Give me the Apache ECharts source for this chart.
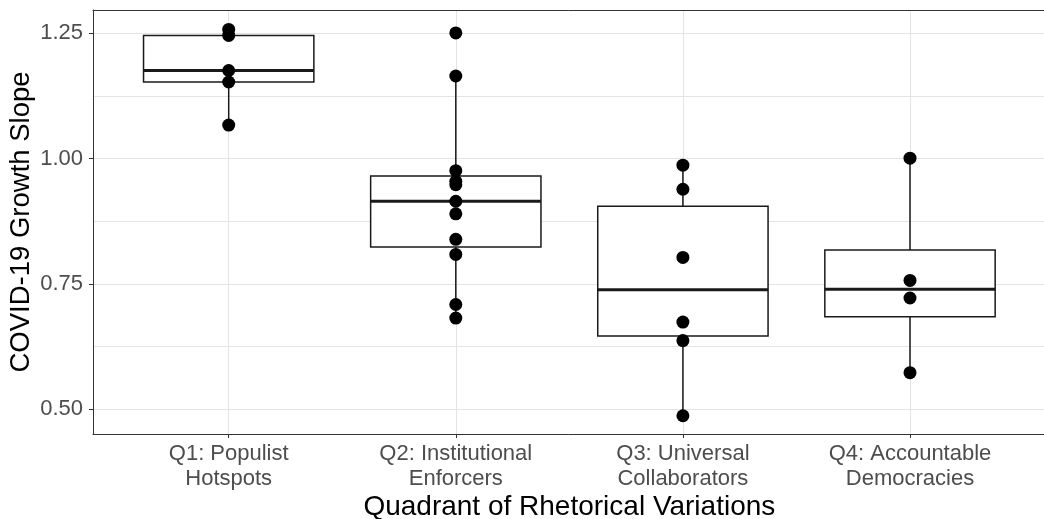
<!DOCTYPE html>
<html>
<head>
<meta charset="utf-8">
<script src="https://cdn.jsdelivr.net/npm/echarts@6/dist/echarts.min.js"></script>
<style>
html,body{margin:0;padding:0;background:#fff;}
#chart{width:1044px;height:519px;}
</style>
</head>
<body>
<div id="chart"></div>
<script>
// ---- data ----
var categories = ['Q1: Populist\nHotspots', 'Q2: Institutional\nEnforcers', 'Q3: Universal\nCollaborators', 'Q4: Accountable\nDemocracies'];
var q1Values = [1.258, 1.246, 1.176, 1.153, 1.067];
var q2Values = [1.251, 1.165, 0.976, 0.955, 0.948, 0.915, 0.890, 0.839, 0.809, 0.709, 0.682];
var q3Values = [0.987, 0.939, 0.803, 0.674, 0.637, 0.487];
var q4Values = [1.001, 0.757, 0.722, 0.573];
var yMajorTicks = [0.5, 0.75, 1.0, 1.25];
var yMinorTicks = [0.625, 0.875, 1.125];
var yMin = 0.4506, yMax = 1.2967;
var xTitle = 'Quadrant of Rhetorical Variations';
var yTitle = 'COVID-19 Growth Slope';

var groups = [q1Values, q2Values, q3Values, q4Values];

function quantile(sorted, p) {
  var h = (sorted.length - 1) * p;
  var lo = Math.floor(h), hi = Math.ceil(h);
  return sorted[lo] + (h - lo) * (sorted[hi] - sorted[lo]);
}
function boxStats(vals) {
  var s = vals.slice().sort(function (a, b) { return a - b; });
  var q1 = quantile(s, 0.25), med = quantile(s, 0.5), q3 = quantile(s, 0.75);
  var iqr = q3 - q1;
  var lf = q1 - 1.5 * iqr, uf = q3 + 1.5 * iqr;
  var inside = s.filter(function (v) { return v >= lf && v <= uf; });
  return [inside[0], q1, med, q3, inside[inside.length - 1]];
}

var boxData = groups.map(function (g, i) { return [i].concat(boxStats(g)); });
var pointData = [];
groups.forEach(function (g, i) { g.forEach(function (v) { pointData.push([i, v]); }); });

var chart = echarts.init(document.getElementById('chart'), null, {renderer: 'canvas'});
var gridColor = '#e4e4e4';
var borderColor = '#333';
var font = 'Liberation Sans, Arial, sans-serif';
var frameAxis = function (pos) {
  return {type: 'value', gridIndex: 0, min: 0, max: 1, position: pos,
    axisLine: {show: true, lineStyle: {color: borderColor, width: 1}},
    axisTick: {show: false}, axisLabel: {show: false}, splitLine: {show: false}};
};
var option = {
  backgroundColor: '#fff',
  animation: false,
  grid: [
    {left: 93, top: 10, width: 960, height: 424, show: false, containLabel: false, outerBoundsMode: 'none'},
    {left: 228.7, top: 10, width: 681.3, height: 424, show: false, containLabel: false, outerBoundsMode: 'none'}
  ],
  xAxis: [
    frameAxis('bottom'),
    {
      type: 'category', gridIndex: 1, data: categories, boundaryGap: false,
      axisLine: {show: false},
      axisTick: {show: true, length: 4, lineStyle: {color: borderColor, width: 1}},
      axisLabel: {color: '#4d4d4d', fontSize: 22, lineHeight: 25, margin: 7, fontFamily: font, interval: 0},
      splitLine: {show: true, lineStyle: {color: gridColor, width: 1}},
      name: xTitle, nameLocation: 'middle', nameGap: 59, nameMoveOverlap: false,
      nameTextStyle: {color: '#000', fontSize: 28, fontFamily: font}
    },
    frameAxis('top')
  ],
  yAxis: [
    {
      type: 'value', gridIndex: 0, min: yMin, max: yMax, position: 'left',
      axisLine: {show: true, lineStyle: {color: borderColor, width: 1}},
      axisTick: {show: true, length: 4, customValues: yMajorTicks, lineStyle: {color: borderColor, width: 1}},
      axisLabel: {customValues: yMajorTicks, color: '#4d4d4d', fontSize: 22, margin: 10,
        fontFamily: font,
        formatter: function (v) { return v.toFixed(2); }},
      splitLine: {show: true, lineStyle: {color: gridColor, width: 1}},
      name: yTitle, nameLocation: 'middle', nameGap: 58, nameMoveOverlap: false,
      nameTextStyle: {color: '#000', fontSize: 27.5, fontFamily: font}
    },
    {
      type: 'value', gridIndex: 0, min: yMin, max: yMax, position: 'right',
      axisLine: {show: false},
      axisTick: {show: false, customValues: yMinorTicks},
      axisLabel: {show: false},
      splitLine: {show: true, lineStyle: {color: gridColor, width: 1}}
    },
    {type: 'value', gridIndex: 1, min: yMin, max: yMax, show: false, splitLine: {show: false}}
  ],
  series: [
    {
      type: 'custom', xAxisIndex: 1, yAxisIndex: 2, clip: false, z: 3,
      data: boxData,
      encode: {x: 0, y: [1, 2, 3, 4, 5]},
      renderItem: function (params, api) {
        var x = api.value(0);
        var pLow = api.coord([x, api.value(1)]);
        var pQ1 = api.coord([x, api.value(2)]);
        var pMed = api.coord([x, api.value(3)]);
        var pQ3 = api.coord([x, api.value(4)]);
        var pHigh = api.coord([x, api.value(5)]);
        var bw = api.size([1, 0])[0] * 0.75;
        var half = bw / 2;
        var stroke = '#1a1a1a';
        return {
          type: 'group',
          children: [
            {type: 'line', shape: {x1: pQ1[0], y1: pQ1[1], x2: pLow[0], y2: pLow[1]}, style: {stroke: stroke, lineWidth: 1.5}},
            {type: 'line', shape: {x1: pQ3[0], y1: pQ3[1], x2: pHigh[0], y2: pHigh[1]}, style: {stroke: stroke, lineWidth: 1.5}},
            {type: 'rect', shape: {x: pMed[0] - half, y: pQ3[1], width: bw, height: pQ1[1] - pQ3[1]}, style: {fill: '#fff', stroke: stroke, lineWidth: 1.5}},
            {type: 'line', shape: {x1: pMed[0] - half, y1: pMed[1], x2: pMed[0] + half, y2: pMed[1]}, style: {stroke: stroke, lineWidth: 3}}
          ]
        };
      }
    },
    {
      type: 'scatter', xAxisIndex: 1, yAxisIndex: 2, clip: false, z: 4,
      data: pointData,
      symbol: 'circle', symbolSize: 13,
      itemStyle: {color: '#000', opacity: 1},
      emphasis: {disabled: true}
    }
  ]
};
chart.setOption(option);
</script>
</body>
</html>
